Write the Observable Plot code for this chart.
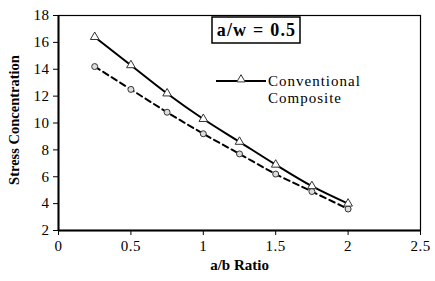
<!DOCTYPE html>
<html><head><meta charset="utf-8">
<script src="https://cdn.jsdelivr.net/npm/d3@7"></script>
<script src="https://cdn.jsdelivr.net/npm/@observablehq/plot@0.6"></script>
<style>body{margin:0;background:#fff}</style>
</head><body><div id="chart"></div>
<script>
const ratios = [0.25, 0.5, 0.75, 1.0, 1.25, 1.5, 1.75, 2.0];
const conventional = [16.4, 14.3, 12.2, 10.3, 8.6, 6.9, 5.3, 4.0];
const composite = [14.2, 12.5, 10.8, 9.2, 7.7, 6.2, 4.9, 3.6];
const xTicks = [0, 0.5, 1, 1.5, 2, 2.5];
const yTicks = [2, 4, 6, 8, 10, 12, 14, 16, 18];
const seriesNames = ["Conventional", "Composite"];
const annotation = "a/w = 0.5";

const conv = ratios.map((x, i) => ({x, y: conventional[i]}));
const comp = ratios.map((x, i) => ({x, y: composite[i]}));

const plot = Plot.plot({
  width: 435, height: 281,
  marginLeft: 58, marginRight: 15, marginTop: 15, marginBottom: 51,
  style: {fontSize: "14px", color: "#000", background: "#fff"},
  x: {domain: [0, 2.5], ticks: xTicks, tickFormat: d => String(d), label: null},
  y: {domain: [2, 18], ticks: yTicks, label: null},
  marks: [
    Plot.frame({stroke: "#000", strokeWidth: 1.2}),
    Plot.axisX({ticks: xTicks, tickSize: 5, tickPadding: 5, tickFormat: d => String(d), label: null, fontSize: 15}),
    Plot.axisY({ticks: yTicks, tickSize: 5, tickPadding: 4, label: null, fontSize: 15}),
    Plot.ruleX([0], {stroke: "#000", strokeWidth: 2}),
    Plot.ruleY([2], {stroke: "#000", strokeWidth: 2}),
    Plot.line(comp, {x: "x", y: "y", curve: "catmull-rom", stroke: "#000", strokeWidth: 2, strokeDasharray: "6,4"}),
    Plot.line(conv, {x: "x", y: "y", curve: "catmull-rom", stroke: "#000", strokeWidth: 2}),
    Plot.dot(comp, {x: "x", y: "y", symbol: "circle", r: 3, stroke: "#333", fill: "#ddd", strokeWidth: 1}),
    Plot.dot(conv, {x: "x", y: "y", symbol: "triangle", r: 3.2, stroke: "#333", fill: "#fff", strokeWidth: 1}),
    Plot.text(["a/b Ratio"], {frameAnchor: "bottom", dy: 39, fontWeight: "bold", fontSize: 15}),
    Plot.text(["Stress Concentration"], {frameAnchor: "left", textAnchor: "middle", dx: -44, dy: -3, rotate: -90, fontWeight: "bold", fontSize: 14.5})
  ]
});
document.getElementById("chart").appendChild(plot);

const svg = d3.select(plot);
svg.attr("font-family", "Liberation Serif").style("font-family", "'Liberation Serif'");
svg.selectAll("g[aria-label='x-axis tick label'] text, g[aria-label='y-axis tick label'] text").attr("letter-spacing", 0.5);
const g = svg.append("g").attr("text-anchor", "start");
g.append("rect").attr("x", 212).attr("y", 17).attr("width", 88).attr("height", 26)
  .attr("fill", "#fff").attr("stroke", "#000").attr("stroke-width", 1.5);
g.append("text").attr("x", 256.5).attr("y", 36).attr("text-anchor", "middle")
  .attr("font-weight", "bold").attr("font-size", 18).attr("letter-spacing", 1.2).text(annotation);
g.append("line").attr("x1", 216).attr("x2", 266).attr("y1", 81).attr("y2", 81)
  .attr("stroke", "#000").attr("stroke-width", 2);
g.append("path").attr("d", d3.symbol(d3.symbolTriangle, 30)()).attr("transform", "translate(241,79.5)")
  .attr("fill", "#fff").attr("stroke", "#333");
g.append("text").attr("x", 268).attr("y", 86).attr("font-size", 15).attr("letter-spacing", 1).text(seriesNames[0]);
g.append("text").attr("x", 268).attr("y", 103).attr("font-size", 15).attr("letter-spacing", 1).text(seriesNames[1]);
svg.selectAll("text").attr("font-family", "Liberation Serif").style("font-family", "'Liberation Serif'");
</script></body></html>
